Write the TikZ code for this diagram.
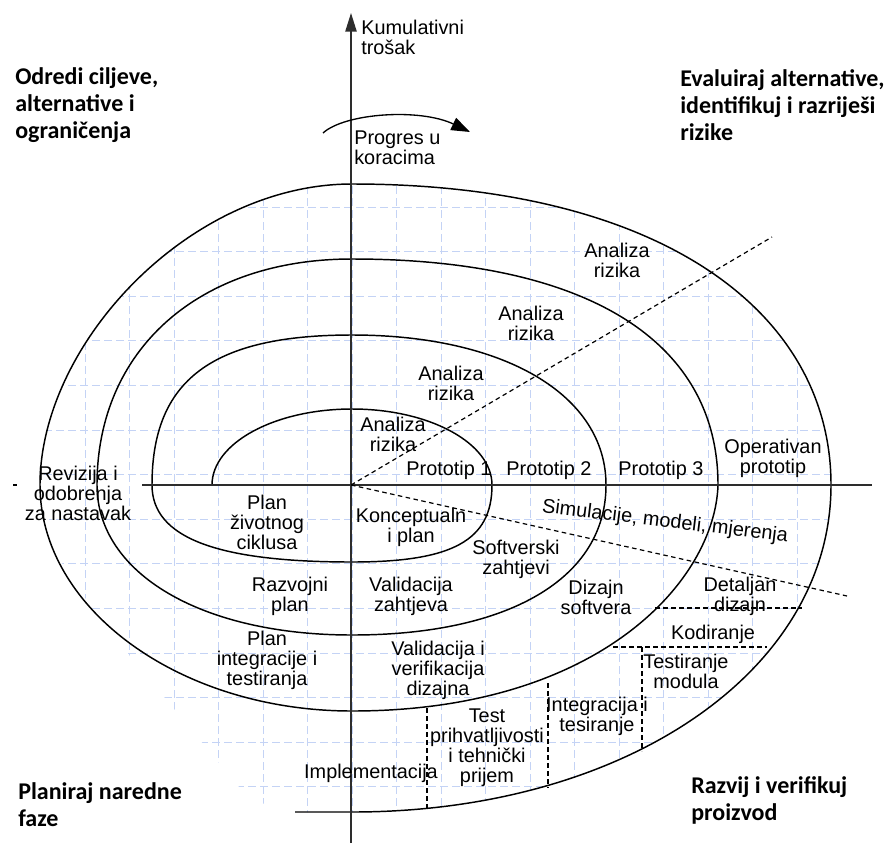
\documentclass[tikz,border=0pt]{standalone}
\usepackage{fontspec}
\setmainfont{Liberation Sans}
\newfontfamily\cornerfont{Carlito}
\usetikzlibrary{arrows.meta}
\definecolor{gridblue}{RGB}{196,211,245}
\definecolor{axisgray}{RGB}{45,45,45}
\begin{document}
\begin{tikzpicture}[x=0.75pt,y=-0.75pt,
  lbl/.style={font=\fontsize{14.9pt}{15pt}\selectfont, align=center, inner sep=0pt},
  corner/.style={font={\cornerfont\bfseries\fontsize{18pt}{20.25pt}\selectfont}, align=left, inner sep=0pt, anchor=west},
  spiralline/.style={line width=1.1pt, line join=round},
  axisline/.style={line width=1.1pt, draw=axisgray},
  dashline/.style={line width=0.9pt, dash pattern=on 3.4pt off 2.6pt},
  gridline/.style={line width=0.7pt, draw=gridblue, dash pattern=on 6pt off 3pt}]
\useasboundingbox (0,0) rectangle (895,843);
\fill[white] (0,0) rectangle (895,843);

% faint grid inside the spiral
\begin{scope}
\clip (40,485) .. controls (40,343.5) and (189.8,184) .. (352,184)
  .. controls (658.6,184) and (831,310.4) .. (831,485)
  .. controls (831,671.4) and (625,812) .. (352,812) -- (295,812)
  -- (250,800) -- (200,740) -- (150,680) -- (100,620) -- (60,560) -- cycle;
\foreach \k in {-7,...,11} \draw[gridline] ({352+44.5*\k},150) -- ({352+44.5*\k},830);
\foreach \k in {-1,...,14} \draw[gridline] (20,{207+44.6*\k}) -- (860,{207+44.6*\k});
\end{scope}

% spiral (quarter arcs)
\draw[spiralline] (212,485)
  .. controls (212,443) and (274.7,409) .. (352,409)
  .. controls (429.3,409) and (492,443) .. (492,485)
  .. controls (492,540.4) and (452.8,562) .. (352,562)
  .. controls (216,562) and (152,537.4) .. (152,485)
  .. controls (152,380) and (212,335) .. (352,335)
  .. controls (504.4,335) and (606,395) .. (606,485)
  .. controls (606,578) and (509.5,635) .. (352,635)
  .. controls (201.6,635) and (97,573.5) .. (97,485)
  .. controls (97,349.4) and (199,259) .. (352,259)
  .. controls (586.2,259) and (718,340.4) .. (718,485)
  .. controls (715,580) and (600,711) .. (352,711)
  .. controls (180.4,711) and (40,609.3) .. (40,485)
  .. controls (40,343.5) and (189.8,184) .. (352,184)
  .. controls (658.6,184) and (831,310.4) .. (831,485)
  .. controls (831,671.4) and (625,812) .. (352,812)
  -- (295,812);

% coordinates
\coordinate (O) at (351,485);
\coordinate (axB) at (351,843);
\coordinate (axT) at (351,13);
\coordinate (axL) at (142,485);
\coordinate (axR) at (872,485);
\coordinate (riskEnd) at (772,237);
\coordinate (simEnd) at (847,596);
\coordinate (pS) at (323,133);
\coordinate (pE) at (470,132);
\coordinate (tick1) at (13,485);
\coordinate (tick2) at (17,485);

% axes
\draw[axisline, -{Triangle[length=14pt,width=8.5pt]}] (axB) -- (axT);
\draw[axisline] (axL) -- (axR);
\draw[line width=0.8pt] (tick1) -- (tick2);

% progress arrow
\draw[line width=1pt, -{Triangle[length=14pt,width=10pt]}] (pS) .. controls (345,113) and (420,108) .. (pE);

% dashed radial lines
\draw[dashline] (O) -- (riskEnd);
\draw[dashline] (O) -- (simEnd);

% dashed boxes
\coordinate (a1) at (655,608); \coordinate (a2) at (802,608);
\coordinate (b1) at (613,647); \coordinate (b2) at (767,647);
\coordinate (c1) at (642,647); \coordinate (c2) at (642,751);
\coordinate (d1) at (548,683); \coordinate (d2) at (548,788);
\coordinate (e1) at (427,708); \coordinate (e2) at (427,811);
\draw[dashline] (a1) -- (a2);
\draw[dashline] (b1) -- (b2);
\draw[dashline] (c1) -- (c2);
\draw[dashline] (d1) -- (d2);
\draw[dashline] (e1) -- (e2);

% corner labels
\node[corner] (tl) at (15,105) {Odredi ciljeve,\\alternative i\\ograničenja};
\node[corner] (tr) at (680,105) {Evaluiraj alternative,\\identifikuj i razriješi\\rizike};
\node[corner] (bl) at (18,805) {Planiraj naredne\\faze};
\node[corner] (br) at (691,800) {Razvij i verifikuj\\proizvod};

% axis labels
\node[lbl, align=left, anchor=west] (kum) at (361,37) {Kumulativni\\trošak};
\node[lbl, align=left, anchor=west] (prog) at (354,148) {Progres u\\koracima};

% spiral labels
\node[lbl] (an4) at (617,260) {Analiza\\rizika};
\node[lbl] (an3) at (531,323) {Analiza\\rizika};
\node[lbl] (an2) at (451,383) {Analiza\\rizika};
\node[lbl] (an1) at (393,434) {Analiza\\rizika};
\node[lbl] (pr1) at (449,470) {Prototip 1};
\node[lbl] (pr2) at (549,470) {Prototip 2};
\node[lbl] (pr3) at (661,470) {Prototip 3};
\node[lbl] (opr) at (773,458) {Operativan\\prototip};
\node[lbl] (rev) at (78,493) {Revizija i\\odobrenja\\za nastavak};
\node[lbl] (plz) at (267,522) {Plan\\životnog\\ciklusa};
\node[lbl] (kon) at (411,527) {Konceptualn\\i plan};
\node[lbl] (sof) at (516,559) {Softverski\\zahtjevi};
\node[lbl] (raz) at (290,596) {Razvojni\\plan};
\node[lbl] (vaz) at (411,596) {Validacija\\zahtjeva};
\node[lbl] (diz) at (596,597) {Dizajn\\softvera};
\node[lbl] (det) at (740,596) {Detaljan\\dizajn};
\node[lbl] (kod) at (713,634) {Kodiranje};
\node[lbl] (tes) at (686,671) {Testiranje\\modula};
\node[lbl] (pli) at (267,660) {Plan\\integracije i\\testiranja};
\node[lbl] (vav) at (438,670) {Validacija i\\verifikacija\\dizajna};
\node[lbl] (tpr) at (487,748) {Test\\prihvatljivosti\\i tehnički\\prijem};
\node[lbl] (int) at (597,716) {Integracija i\\tesiranje};
\node[lbl] (imp) at (371,773) {Implementacija};
\node[lbl, rotate=-7] (sim) at (665,522) {Simulacije, modeli, mjerenja};
\end{tikzpicture}
\end{document}
